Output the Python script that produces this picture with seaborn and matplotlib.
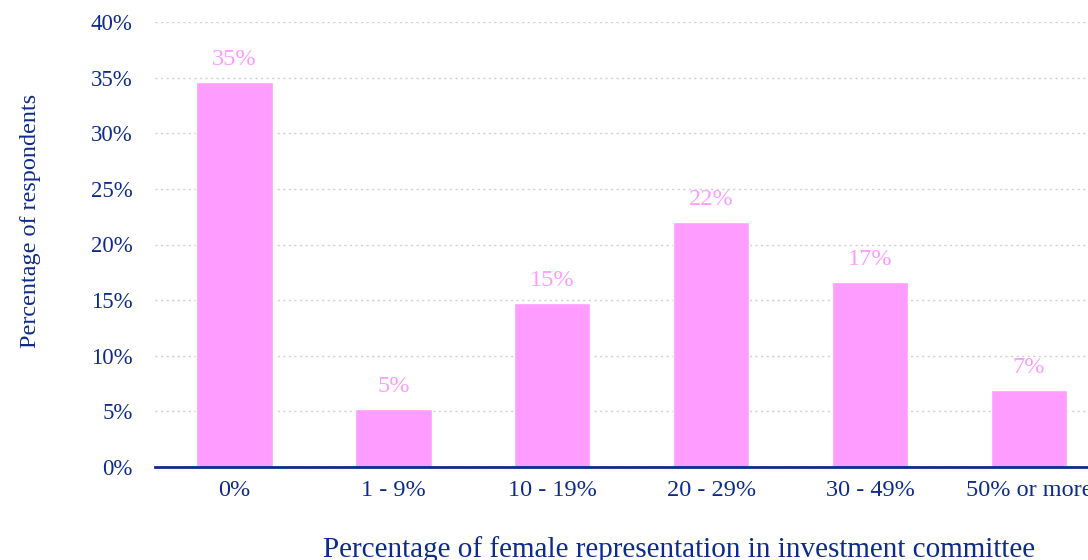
import matplotlib
matplotlib.use("Agg")
import matplotlib.pyplot as plt
import seaborn as sns
import pandas as pd
from matplotlib.ticker import FuncFormatter

# Share of respondents by female representation on the investment committee
categories = ["0%", "1 - 9%", "10 - 19%", "20 - 29%", "30 - 49%", "50% or more"]
respondents_pct = [34.6, 5.2, 14.7, 22.0, 16.6, 6.9]
y_ticks = [0, 5, 10, 15, 20, 25, 30, 35, 40]

NAVY = "#0d2b8c"
PINK = "#ff9cff"
LABEL_PINK = "#ff9cff"

sns.set_theme(style="white")
plt.rcParams["font.family"] = ["Liberation Serif", "DejaVu Serif"]

df = pd.DataFrame({"category": categories, "pct": respondents_pct})

fig = plt.figure(figsize=(10.88, 5.6), dpi=100)
ax = fig.add_axes([155 / 1088, 93 / 560, (1108.5 - 155) / 1088, (467 - 22) / 560])

sns.barplot(data=df, x="category", y="pct", color=PINK, saturation=1,
            width=0.48, ax=ax)

ax.set_xlim(-0.5, len(categories) - 0.5)
ax.set_ylim(0, 40)
ax.set_yticks(y_ticks)
ax.yaxis.set_major_formatter(FuncFormatter(lambda v, _: f"{v:.0f}%"))

ax.grid(axis="y", color="#d0d0d0", linestyle=(0, (1.5, 2.5)), linewidth=1)
ax.set_axisbelow(True)
for side in ["top", "right", "left"]:
    ax.spines[side].set_visible(False)
ax.spines["bottom"].set_color(NAVY)
ax.spines["bottom"].set_linewidth(2)

ax.tick_params(axis="both", length=0, colors=NAVY)
ax.tick_params(axis="x", labelsize=17.5, pad=9)
ax.tick_params(axis="y", labelsize=16.5, pad=16)

for patch, val in zip(ax.patches, respondents_pct):
    ax.text(patch.get_x() + patch.get_width() / 2, val + 1.1, f"{val:.0f}%",
            ha="center", va="bottom", color=LABEL_PINK, fontsize=17.5)

ax.set_xlabel("Percentage of female representation in investment committee",
              color=NAVY, fontsize=21)
ax.xaxis.set_label_coords(0.55, -0.155)
ax.set_ylabel("Percentage of respondents", color=NAVY, fontsize=17.4)
ax.yaxis.set_label_coords(-0.12, 0.553)

fig.savefig("out.png", dpi=100, facecolor="white")
